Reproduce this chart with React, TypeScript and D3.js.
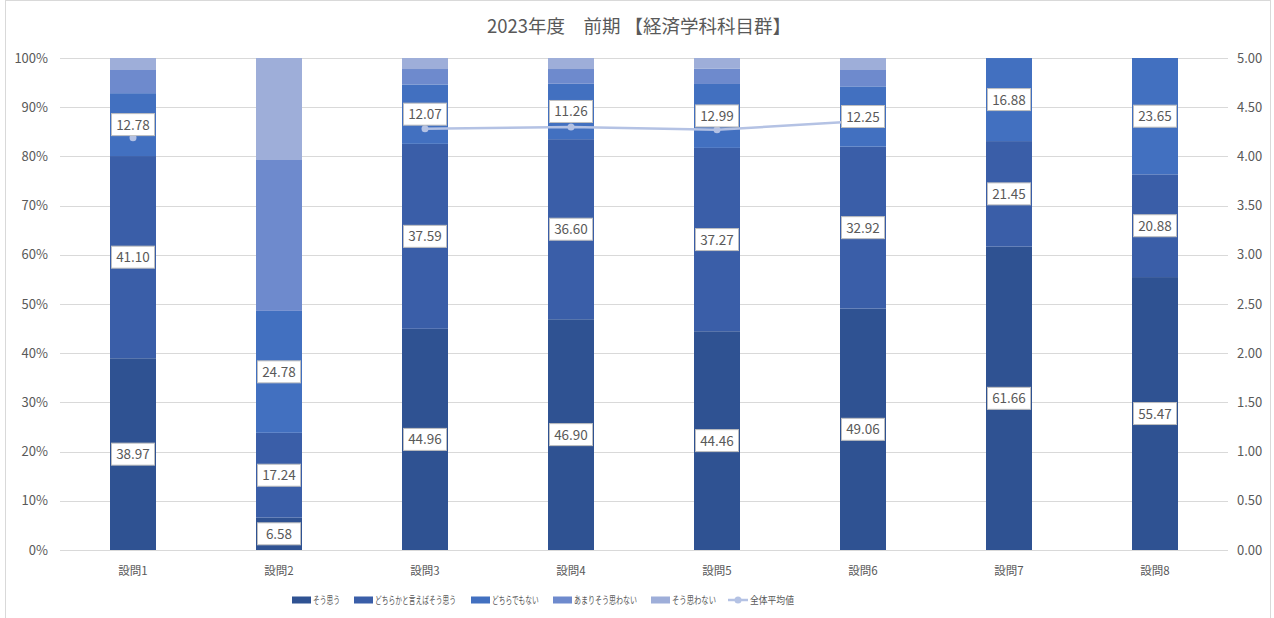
import React from "react";
import * as d3 from "d3";

const categories = ["設問1", "設問2", "設問3", "設問4", "設問5", "設問6", "設問7", "設問8"];
const seriesNames = ["そう思う", "どちらかと言えばそう思う", "どちらでもない", "あまりそう思わない", "そう思わない"];
const soOmou = [38.97, 6.58, 44.96, 46.9, 44.46, 49.06, 61.66, 55.47];
const dochiraka = [41.1, 17.24, 37.59, 36.6, 37.27, 32.92, 21.45, 20.88];
const dochirademo = [12.78, 24.78, 12.07, 11.26, 12.99, 12.25, 16.88, 23.65];
const amari = [4.71, 30.67, 3.14, 3.0, 3.08, 3.33, 0, 0];
const soOmowanai = [2.44, 20.73, 2.24, 2.24, 2.2, 2.44, 0, 0];
const average: (number | null)[] = [4.19, null, 4.28, 4.3, 4.27, 4.36, null, null];
const lineName = "全体平均値";
const leftTicks = [0, 10, 20, 30, 40, 50, 60, 70, 80, 90, 100];
const rightTicks = [0, 0.5, 1, 1.5, 2, 2.5, 3, 3.5, 4, 4.5, 5];
const title = "2023年度\u3000前期 【経済学科科目群】";

const colors = ["#2F5292", "#3A5EA8", "#4270C0", "#6E8ACD", "#9EAED9"];
const lineColor = "#B4C2E4";
const FONT = "'Noto Sans CJK JP', 'Noto Sans', sans-serif";
const LEG_FS = 10.5;

function measure(t: string): number {
  try {
    const ctx = document.createElement("canvas").getContext("2d");
    if (ctx) {
      ctx.font = `${LEG_FS}px 'Noto Sans CJK JP'`;
      return ctx.measureText(t).width;
    }
  } catch (e) {}
  return t.length * LEG_FS;
}

function LegendText({ x, y, w, t }: { x: number; y: number; w: number; t: string }) {
  const sx = w / measure(t);
  return (
    <text transform={`translate(${x},${y}) scale(${sx},1)`} fontSize={LEG_FS} fill="#595959">
      {t}
    </text>
  );
}

export default function App() {
  const W = 1274, H = 618;
  const left = 60, right = 1228, top = 58, bottom = 550;
  const x = d3.scaleBand<string>().domain(categories).range([left, right]).paddingInner(0.685).paddingOuter(0.3425);
  const y = d3.scaleLinear().domain([0, 100]).range([bottom, top]);
  const y2 = d3.scaleLinear().domain([0, 5]).range([bottom, top]);
  const series = [soOmou, dochiraka, dochirademo, amari, soOmowanai];
  const rows = categories.map((c, i) => {
    const r: any = { cat: c };
    seriesNames.forEach((s, k) => (r[s] = series[k][i]));
    return r;
  });
  const stacked = d3.stack<any>().keys(seriesNames)(rows);
  const lineGen = d3
    .line<number | null>()
    .defined((d) => d != null)
    .x((_, i) => (x(categories[i]) as number) + x.bandwidth() / 2)
    .y((d) => y2(d as number));
  const legendX = [292, 354, 471, 553, 651];
  const legendW = [27, 81, 47, 63, 44];
  const lineLegendX = 728;
  const lineLegendW = 44;
  const legendY = 600;

  const labels: { cx: number; cy: number; t: string }[] = [];
  stacked.slice(0, 3).forEach((layer) => {
    layer.forEach((seg, i) => {
      const v = seg[1] - seg[0];
      if (v > 0) labels.push({ cx: (x(categories[i]) as number) + x.bandwidth() / 2, cy: y((seg[0] + seg[1]) / 2), t: v.toFixed(2) });
    });
  });

  return (
    <svg width={W} height={H} style={{ position: "absolute", left: 0, top: 0, background: "#fff" }} fontFamily={FONT}>
      <rect x={5.5} y={0.5} width={1265} height={620} fill="#fff" stroke="#D9D9D9" />
      <text x={639} y={33} textAnchor="middle" fontSize={18.5} fill="#595959">
        {title}
      </text>
      {leftTicks.map((t) => (
        <line key={"g" + t} x1={left} x2={right} y1={Math.round(y(t)) + 0.5} y2={Math.round(y(t)) + 0.5} stroke="#D9D9D9" />
      ))}
      {leftTicks.map((t) => (
        <text key={"l" + t} x={48} y={y(t) + 4.5} textAnchor="end" fontSize={13} fill="#595959">
          {t + "%"}
        </text>
      ))}
      {rightTicks.map((t) => (
        <text key={"r" + t} x={1237} y={y2(t) + 4.5} textAnchor="start" fontSize={13} fill="#595959">
          {t.toFixed(2)}
        </text>
      ))}
      {stacked.map((layer, k) => (
        <g key={layer.key} fill={colors[k]}>
          {layer.map((seg, i) =>
            seg[1] - seg[0] > 0 ? (
              <rect key={i} x={x(categories[i])} width={x.bandwidth()} y={y(seg[1])} height={y(seg[0]) - y(seg[1])} />
            ) : null
          )}
        </g>
      ))}
      {categories.map((c) => (
        <text key={c} x={(x(c) as number) + x.bandwidth() / 2} y={575} textAnchor="middle" fontSize={11.5} fill="#595959">
          {c}
        </text>
      ))}
      <path d={lineGen(average) || ""} fill="none" stroke={lineColor} strokeWidth={2.5} />
      {average.map((v, i) =>
        v == null ? null : (
          <circle key={i} cx={(x(categories[i]) as number) + x.bandwidth() / 2} cy={y2(v)} r={3.5} fill={lineColor} />
        )
      )}
      {labels.map((l, i) => (
        <g key={i}>
          <rect x={l.cx - 21.5} y={l.cy - 11} width={43} height={22} fill="#fff" stroke="#BFBFBF" />
          <text x={l.cx} y={l.cy + 5} textAnchor="middle" fontSize={13.5} fill="#595959">
            {l.t}
          </text>
        </g>
      ))}
      {seriesNames.map((s, k) => (
        <g key={s}>
          <rect x={legendX[k]} y={legendY - 3.5} width={19} height={7} fill={colors[k]} />
          <LegendText x={legendX[k] + 21} y={legendY + 4} w={legendW[k]} t={s} />
        </g>
      ))}
      <line x1={lineLegendX} x2={lineLegendX + 20} y1={legendY} y2={legendY} stroke={lineColor} strokeWidth={2.5} />
      <circle cx={lineLegendX + 10} cy={legendY} r={3.5} fill={lineColor} />
      <LegendText x={lineLegendX + 22} y={legendY + 4} w={lineLegendW} t={lineName} />
    </svg>
  );
}
